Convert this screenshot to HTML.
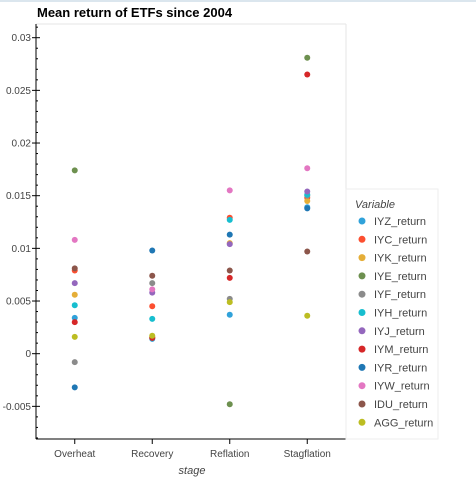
<!DOCTYPE html>
<html><head><meta charset="utf-8"><style>
body{margin:0;background:#fff;}
svg{display:block;font-family:"Liberation Sans",sans-serif;}
</style></head><body>
<svg id="chart" width="476" height="480">
<rect x="0" y="0" width="476" height="2" fill="#dbe6ee"/>
<text x="37" y="17" font-size="13" font-weight="bold" fill="#000">Mean return of ETFs since 2004</text>
<line x1="36" y1="24" x2="346" y2="24" stroke="#e6e6e6"/>
<line x1="346" y1="24" x2="346" y2="439" stroke="#e6e6e6"/>
<g id="axes"></g>
<g id="marks"></g>
<text x="192" y="474" font-size="11" font-style="italic" fill="#444" text-anchor="middle">stage</text>
<rect x="346" y="189" width="92" height="250" fill="#fff" stroke="#eeeeee"/>
<text x="355" y="208" font-size="11" font-style="italic" fill="#444">Variable</text>
<g id="legend"></g>
</svg>
<script>
const categories=["Overheat","Recovery","Reflation","Stagflation"];
const seriesNames=["IYZ_return","IYC_return","IYK_return","IYE_return","IYF_return","IYH_return","IYJ_return","IYM_return","IYR_return","IYW_return","IDU_return","AGG_return"];
const IYZ=[0.0034,0.0014,0.0037,0.0139];
const IYC=[0.0079,0.0045,0.0129,0.0148];
const IYK=[0.0056,0.0016,0.0105,0.0145];
const IYE=[0.0174,0.0015,-0.0048,0.0281];
const IYF=[-0.0008,0.0067,0.0052,0.0150];
const IYH=[0.0046,0.0033,0.0127,0.0151];
const IYJ=[0.0067,0.0058,0.0104,0.0154];
const IYM=[0.0030,0.0015,0.0072,0.0265];
const IYR=[-0.0032,0.0098,0.0113,0.0138];
const IYW=[0.0108,0.0061,0.0155,0.0176];
const IDU=[0.0081,0.0074,0.0079,0.0097];
const AGG=[0.0016,0.0017,0.0049,0.0036];
const seriesValues=[IYZ,IYC,IYK,IYE,IYF,IYH,IYJ,IYM,IYR,IYW,IDU,AGG];
const colors=["#30a2da","#fc4f30","#e5ae38","#6d904f","#8b8b8b","#17becf","#9467bd","#d62728","#1f77b4","#e377c2","#8c564b","#bcbd22"];
const yTicks=[-0.005,0,0.005,0.01,0.015,0.02,0.025,0.03];
const yTickLabels=["-0.005","0","0.005","0.01","0.015","0.02","0.025","0.03"];

const NS="http://www.w3.org/2000/svg";
const yMin=-0.0081,yMax=0.0313,pTop=24,pBottom=439,pLeft=36,pRight=346;
function y(v){return pBottom-(v-yMin)/(yMax-yMin)*(pBottom-pTop);}
function x(i){return pLeft+(pRight-pLeft)*(i+0.5)/categories.length;}
function mk(t,a,p){const e=document.createElementNS(NS,t);for(const k in a)e.setAttribute(k,a[k]);p.appendChild(e);return e;}
const axes=document.getElementById('axes');
let l=mk('line',{x1:pLeft,y1:pTop,x2:pLeft,y2:pBottom,stroke:'#000'},axes);


l=mk('line',{x1:pLeft,y1:pBottom,x2:pRight,y2:pBottom,stroke:'#000'},axes);


for(let k=-8;k<=31;k++){const v=k/1000;const yy=y(v);
 const major=k%5===0;
 const t=mk('line',{x1:pLeft-(major?4:0),x2:pLeft+(major?4:2),y1:yy,y2:yy,stroke:'#000'},axes);
 
 }
yTicks.forEach((v,i)=>{const t=mk('text',{x:pLeft-5,y:y(v)+3.5,'font-size':10,fill:'#444','text-anchor':'end'},axes);t.textContent=yTickLabels[i];
 
 });
categories.forEach((c,i)=>{const t=mk('line',{x1:x(i),x2:x(i),y1:pBottom,y2:pBottom+5,stroke:'#000'},axes);
 
 
 const tx=mk('text',{x:x(i),y:pBottom+18,'font-size':10,fill:'#444','text-anchor':'middle'},axes);tx.textContent=c;
 
 });
const marks=document.getElementById('marks');
seriesValues.forEach((arr,s)=>{arr.forEach((v,i)=>{const c=mk('circle',{cx:x(i),cy:y(v),r:3,fill:colors[s]},marks);
 
 });});
const lg=document.getElementById('legend');
seriesNames.forEach((n,s)=>{const yy=221+s*18.3;
 const c=mk('circle',{cx:362,cy:yy,r:3.5,fill:colors[s]},lg);
 
 
 const t=mk('text',{x:374,y:yy+4,'font-size':11,fill:'#444'},lg);t.textContent=n;
 
 });
</script>
</body></html>
